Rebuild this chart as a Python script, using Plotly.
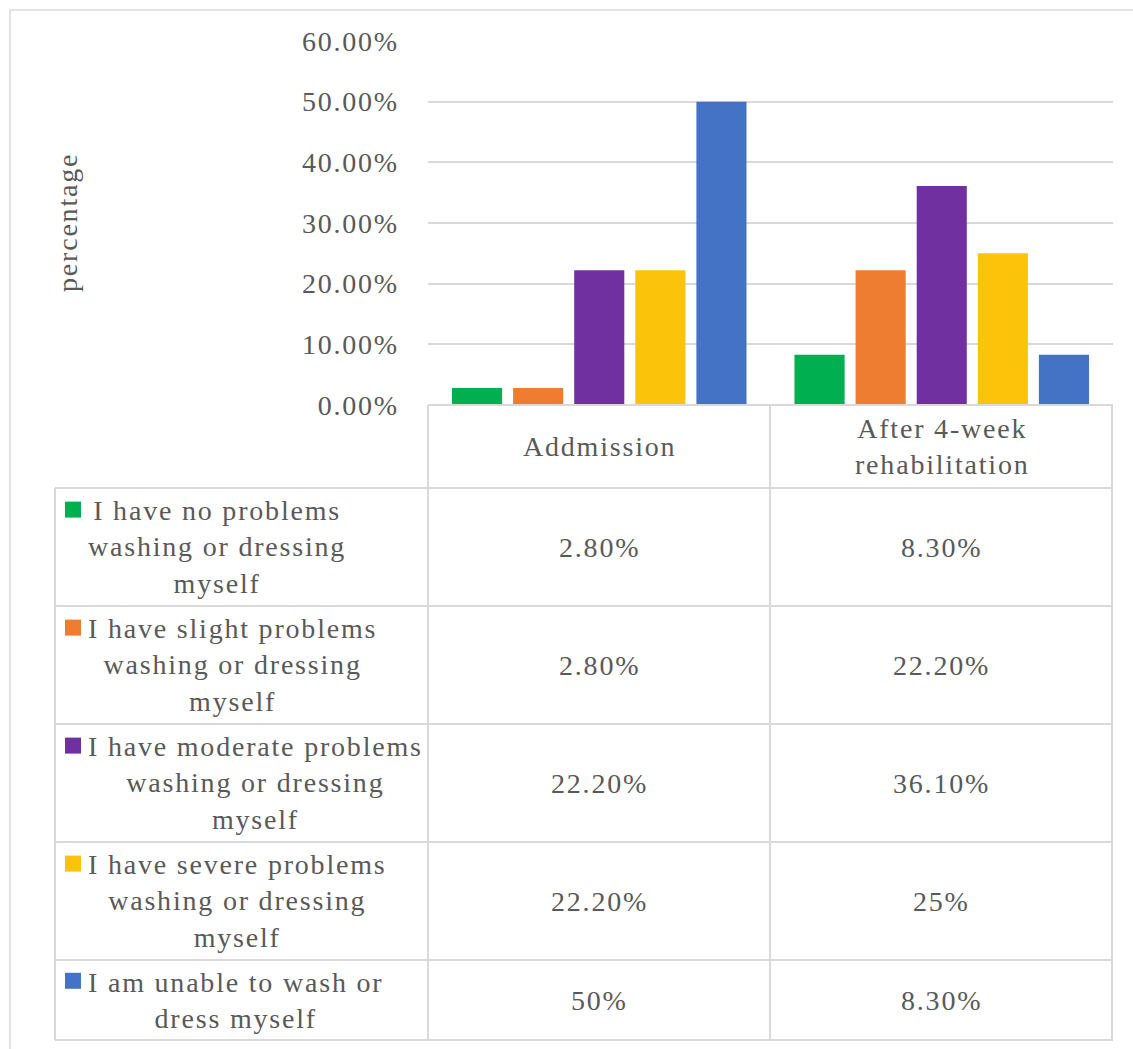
import plotly.graph_objects as go

# ---- data ----
categories = ["Addmission", "After 4-week<br>rehabilitation"]
series_names = [
    "I have no problems<br>washing or dressing<br>myself",
    "I have slight problems<br>washing or dressing<br>myself",
    "I have moderate problems<br>washing or dressing<br>myself",
    "I have severe problems<br>washing or dressing<br>myself",
    "I am unable to wash or<br>dress myself",
]
admission = [0.028, 0.028, 0.222, 0.222, 0.50]
after_rehab = [0.083, 0.222, 0.361, 0.25, 0.083]
admission_labels = ["2.80%", "2.80%", "22.20%", "22.20%", "50%"]
after_labels = ["8.30%", "22.20%", "36.10%", "25%", "8.30%"]
tick_values = [0, 0.1, 0.2, 0.3, 0.4, 0.5, 0.6]
tick_labels = ["0.00%", "10.00%", "20.00%", "30.00%", "40.00%", "50.00%", "60.00%"]

colors = ["#00b050", "#ee7d31", "#7030a0", "#fbc40a", "#4472c4"]

# ---- page geometry (pixels) ----
W, H = 1133, 1049
FONT = "Liberation Serif"
TXT = "#595959"
GRID = "#d9d9d9"
FS = 28
LINE_H = 36.4


def px(x):
    return x / W


def py(y):
    return 1 - y / H


def spaced(text):
    # slightly wider letter spacing for all chart text
    return "<br>".join('<span style="letter-spacing:1.8px">%s</span>' % part
                       for part in text.split("<br>"))


plot_left, plot_right = 428, 1113
plot_top, plot_bottom = 41, 405
col_mid = 770
label_left = 55
row_edges = [488, 606, 724, 842, 960, 1040]
header_top = plot_bottom

fig = go.Figure()
for name, a, b, c in zip(series_names, admission, after_rehab, colors):
    fig.add_trace(go.Bar(
        x=categories, y=[a, b], name=name.replace("<br>", " "),
        marker=dict(color=c, line=dict(width=0)),
        showlegend=False,
    ))

shapes = []
annotations = []

# outer chart frame
shapes.append(dict(type="rect", xref="paper", yref="paper",
                   x0=px(10), x1=px(1145), y0=py(1060), y1=py(10),
                   line=dict(color=GRID, width=1.5), layer="below"))

line_style = dict(color=GRID, width=2)


def hline(y, x0, x1):
    shapes.append(dict(type="line", xref="paper", yref="paper",
                       x0=px(x0), x1=px(x1), y0=py(y), y1=py(y), line=line_style))


def vline(x, y0, y1):
    shapes.append(dict(type="line", xref="paper", yref="paper",
                       x0=px(x), x1=px(x), y0=py(y0), y1=py(y1), line=line_style))


# data table grid
hline(header_top, plot_left, plot_right)
for y in row_edges:
    hline(y, label_left, plot_right)
vline(label_left, row_edges[0], row_edges[-1])
for x in (plot_left, col_mid, plot_right - 1):
    vline(x, header_top, row_edges[-1])

font = dict(family=FONT, size=FS, color=TXT)
col_centers = [(plot_left + col_mid) / 2, (col_mid + plot_right) / 2]

# header row: category names
for cat, cx in zip(categories, col_centers):
    annotations.append(dict(xref="paper", yref="paper", x=px(cx),
                            y=py((header_top + row_edges[0]) / 2),
                            text=spaced(cat), showarrow=False, font=font,
                            xanchor="center", yanchor="middle", align="center"))

# body rows: legend key + series name + values
for i, name in enumerate(series_names):
    top, bot = row_edges[i], row_edges[i + 1]
    cy = (top + bot) / 2
    n_lines = name.count("<br>") + 1
    first_line = cy - (n_lines - 1) / 2 * LINE_H
    shapes.append(dict(type="rect", xref="paper", yref="paper",
                       x0=px(65), x1=px(81), y0=py(first_line + 7), y1=py(first_line - 9),
                       fillcolor=colors[i], line=dict(width=0)))
    annotations.append(dict(xref="paper", yref="paper", x=px(86), y=py(cy),
                            text=spaced(name), showarrow=False, font=font,
                            xanchor="left", yanchor="middle", align="center"))
    for lab, cx in zip((admission_labels[i], after_labels[i]), col_centers):
        annotations.append(dict(xref="paper", yref="paper", x=px(cx), y=py(cy),
                                text=spaced(lab), showarrow=False, font=font,
                                xanchor="center", yanchor="middle"))

# vertical axis title
annotations.append(dict(xref="paper", yref="paper", x=px(67), y=py((plot_top + plot_bottom) / 2),
                        text=spaced("percentage"), textangle=-90, showarrow=False, font=font,
                        xanchor="center", yanchor="middle"))

fig.update_layout(
    width=W, height=H,
    margin=dict(l=0, r=0, t=0, b=0, autoexpand=False),
    paper_bgcolor="white", plot_bgcolor="white",
    barmode="group", bargap=0.108, bargroupgap=0.18,
    font=font,
    xaxis=dict(domain=[px(plot_left), px(plot_right)], showticklabels=False,
               showgrid=False, showline=False, zeroline=False, ticks=""),
    yaxis=dict(domain=[py(plot_bottom), py(plot_top)], range=[0, 0.6],
               tickvals=tick_values, ticktext=[spaced(t) for t in tick_labels],
               showgrid=True, gridcolor=GRID, gridwidth=2,
               zeroline=False, showline=False, ticks="",
               ticklabelstandoff=28, tickfont=font, automargin=False),
    shapes=shapes, annotations=annotations,
)

fig.write_html("out.html")
